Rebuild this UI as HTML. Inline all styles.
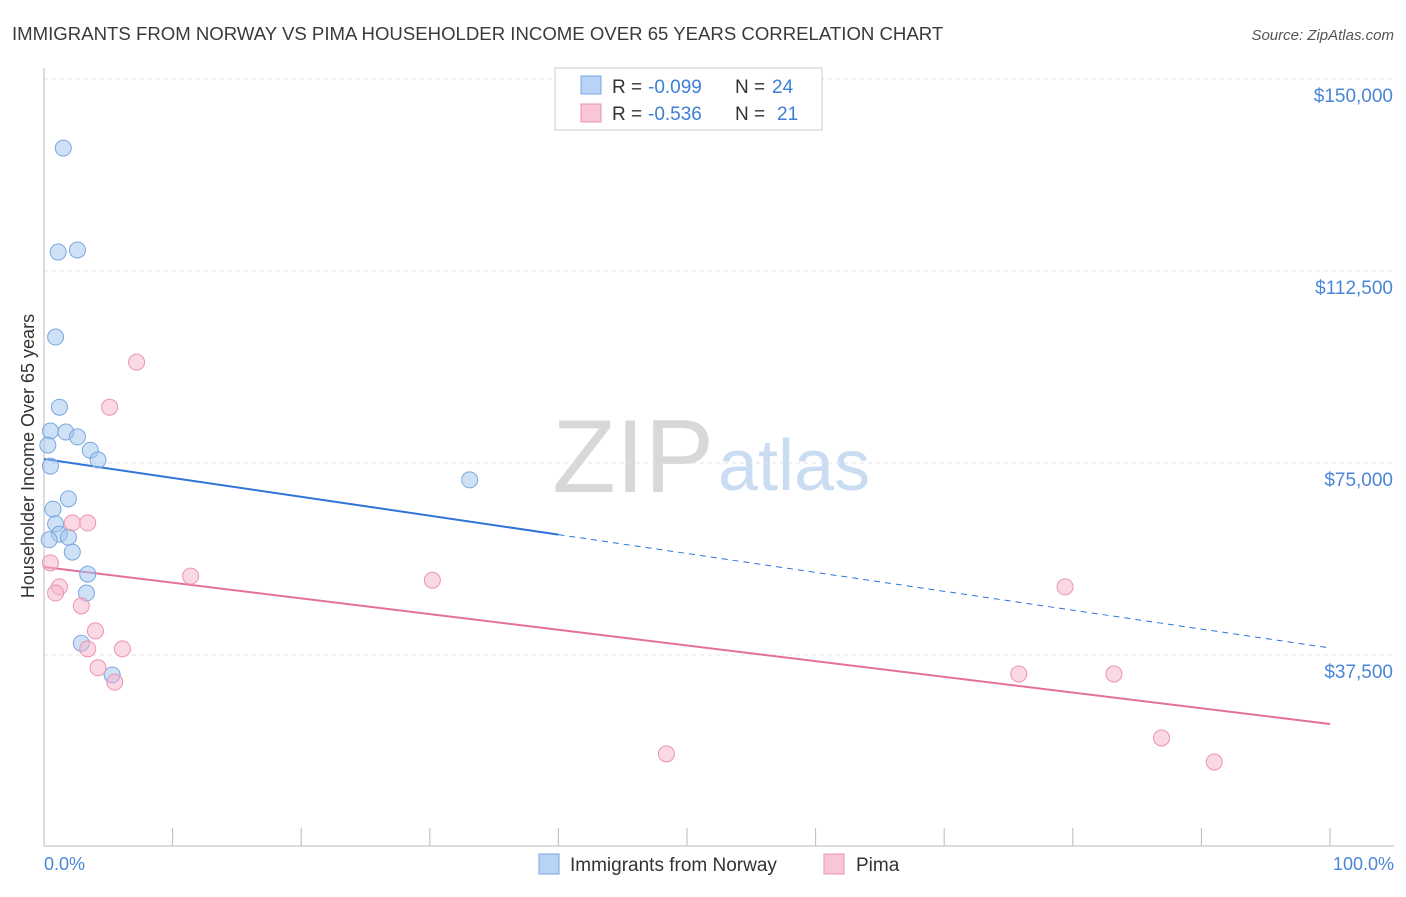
<!DOCTYPE html>
<html><head><meta charset="utf-8"><style>
body{margin:0;background:#fff;font-family:"Liberation Sans",sans-serif;}
svg text{font-family:"Liberation Sans",sans-serif;}
</style></head><body>
<svg id="chart" width="1406" height="892" xmlns="http://www.w3.org/2000/svg">
<text x="12" y="40" font-size="18.6" fill="#3a3a3a">IMMIGRANTS FROM NORWAY VS PIMA HOUSEHOLDER INCOME OVER 65 YEARS CORRELATION CHART</text>
<text x="1394" y="40" font-size="15" fill="#555" text-anchor="end" font-style="italic">Source: ZipAtlas.com</text>
<text x="714" y="492" font-size="104" fill="#d8d8d8" text-anchor="end" font-family="Liberation Serif">ZIP</text>
<text x="718" y="490" font-size="72" fill="#c9dcf2">atlas</text>
<g id="grid"></g>
<g id="axes"></g>
<g id="lines"></g>
<g id="points"></g>
<text x="34" y="456" font-size="18" fill="#333" text-anchor="middle" transform="rotate(-90 34 456)">Householder Income Over 65 years</text>
<text x="44" y="870" font-size="18" fill="#4a86d8">0.0%</text>
<text x="1394" y="870" font-size="18" fill="#4a86d8" text-anchor="end">100.0%</text>
<g>
<rect x="555" y="68" width="267" height="62" fill="#fff" stroke="#ccc"/>
<rect x="581" y="76" width="20" height="18" fill="#b8d3f5" stroke="#7aa7e0"/>
<text x="612" y="93" font-size="19" fill="#333">R =</text>
<text x="648" y="93" font-size="19" fill="#3d7fd6">-0.099</text>
<text x="735" y="93" font-size="19" fill="#333">N =</text>
<text x="772" y="93" font-size="19" fill="#3d7fd6">24</text>
<rect x="581" y="104" width="20" height="18" fill="#f9c6d6" stroke="#eb94b0"/>
<text x="612" y="120" font-size="19" fill="#333">R =</text>
<text x="648" y="120" font-size="19" fill="#3d7fd6">-0.536</text>
<text x="735" y="120" font-size="19" fill="#333">N =</text>
<text x="777" y="120" font-size="19" fill="#3d7fd6">21</text>
</g>
<g>
<rect x="539" y="854" width="20" height="20" fill="#b8d3f5" stroke="#7aa7e0"/>
<text x="570" y="871" font-size="19" fill="#333">Immigrants from Norway</text>
<rect x="824" y="854" width="20" height="20" fill="#f9c6d6" stroke="#eb94b0"/>
<text x="856" y="871" font-size="19" fill="#333">Pima</text>
</g>
</svg>
<script>
const yTicks=[37500,75000,112500,150000];
const yTickLabels=["$37,500","$75,000","$112,500","$150,000"];
const blueX=[1.5,1.1,2.6,0.9,1.2,0.5,1.7,2.6,0.3,3.6,4.2,0.5,1.9,0.7,0.9,1.2,1.9,2.2,3.4,3.3,2.9,5.3,33.1,0.4];
const blueY=[136500,116200,116600,99600,85900,81250,81050,80100,78500,77500,75600,74400,68000,66000,63100,61100,60500,57600,53300,49600,39800,33600,71700,60000];
const pinkX=[7.2,5.1,2.2,3.4,0.5,1.2,0.9,2.9,4.0,3.4,6.1,4.2,5.5,11.4,30.2,48.4,79.4,75.8,83.2,86.9,91.0];
const pinkY=[94700,85900,63300,63300,55500,50800,49600,47100,42200,38700,38700,35000,32200,52900,52100,18200,50800,33800,33800,21300,16600];
const blueTrend=[75780,38870];
const pinkTrend=[54690,24030];
const NS="http://www.w3.org/2000/svg";
const xs=p=>44+p*12.86;
const ys=v=>655-(v-37500)*192/37500;
function mk(tag,attrs,parent){const e=document.createElementNS(NS,tag);for(const k in attrs)e.setAttribute(k,attrs[k]);document.getElementById(parent).appendChild(e);return e;}
yTicks.forEach((t,i)=>{
 const g=mk('line',{x1:44,x2:1394,y1:ys(t),y2:ys(t),stroke:'#e2e2e2','stroke-dasharray':'4,4'},'grid');
 
 
 const l=mk('text',{x:1393,y:ys(t)+23,'font-size':19,fill:'#4a86d8','text-anchor':'end'},'axes');
 l.textContent=yTickLabels[i];
 
 
});
const ya=mk('line',{x1:44,x2:44,y1:68,y2:846,stroke:'#bbb'},'axes');


const xa=mk('line',{x1:44,x2:1394,y1:846,y2:846,stroke:'#bbb'},'axes');


for(let i=0;i<=10;i++){const t=mk('line',{x1:xs(i*10),x2:xs(i*10),y1:828,y2:846,stroke:'#bbb'},'axes');
 
 }
const bt=(p)=>blueTrend[0]+(blueTrend[1]-blueTrend[0])*p/100;
let l1=mk('line',{x1:xs(0),y1:ys(bt(0)),x2:xs(40),y2:ys(bt(40)),stroke:'#2f74d8','stroke-width':2},'lines');


let l2=mk('line',{x1:xs(40),y1:ys(bt(40)),x2:xs(100),y2:ys(bt(100)),stroke:'#2f74d8','stroke-width':1,'stroke-dasharray':'6,5'},'lines');


let l3=mk('line',{x1:xs(0),y1:ys(pinkTrend[0]),x2:xs(100),y2:ys(pinkTrend[1]),stroke:'#e4709a','stroke-width':2},'lines');


blueX.forEach((x,i)=>{const c=mk('circle',{cx:xs(x),cy:ys(blueY[i]),r:8,fill:'rgba(160,196,240,0.5)',stroke:'#7aa7e0','stroke-width':1},'points');
 
 });
pinkX.forEach((x,i)=>{const c=mk('circle',{cx:xs(x),cy:ys(pinkY[i]),r:8,fill:'rgba(245,180,202,0.5)',stroke:'#eb94b0','stroke-width':1},'points');
 
 });
</script>
</body></html>
